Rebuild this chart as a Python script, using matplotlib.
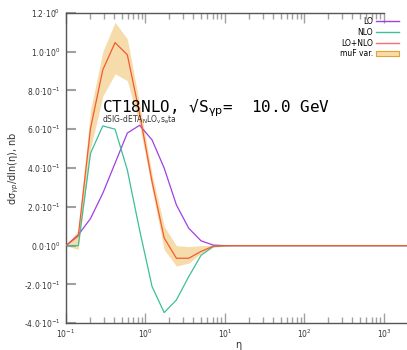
import math
import matplotlib
matplotlib.use("Agg")
import matplotlib.pyplot as plt
from matplotlib.lines import Line2D
from matplotlib.patches import Patch
from matplotlib.ticker import FixedLocator, LogLocator, NullFormatter

# eta bin centres
eta = [0.1, 0.143, 0.204, 0.291, 0.415, 0.592, 0.845, 1.21, 1.72, 2.45,
       3.5, 5.0, 7.1, 10.2, 14.5, 50.0, 200.0, 1000.0, 1950.0]

sig_lo = [0.0, 0.055, 0.14, 0.27, 0.425, 0.58, 0.62, 0.545, 0.40, 0.21,
          0.09, 0.025, 0.003, 0.0, 0.0, 0.0, 0.0, 0.0, 0.0]
sig_nlo = [0.0, 0.0, 0.476, 0.617, 0.60, 0.39, 0.08, -0.21, -0.345, -0.28,
           -0.16, -0.05, -0.005, 0.0, 0.0, 0.0, 0.0, 0.0, 0.0]
sig_tot = [0.0, 0.05, 0.605, 0.906, 1.046, 0.983, 0.68, 0.33, 0.04, -0.065,
           -0.065, -0.03, -0.003, 0.0, 0.0, 0.0, 0.0, 0.0, 0.0]

# factorisation-scale band (first 15 bins)
band_hi = [0.0, 0.08, 0.70, 1.00, 1.15, 1.065, 0.73, 0.37, 0.10, 0.0,
           -0.005, 0.0, 0.002, 0.002, 0.0]
band_lo = [0.0, -0.02, 0.50, 0.77, 0.885, 0.85, 0.62, 0.29, -0.02, -0.105,
           -0.09, -0.04, -0.008, -0.003, 0.0]

yticks = [-0.4, -0.2, 0.0, 0.2, 0.4, 0.6, 0.8, 1.0, 1.2]
xticks = [0.1, 1.0, 10.0, 100.0, 1000.0]
xtick_labels = ["10$^{-1}$", "10$^{0}$", "10$^{1}$", "10$^{2}$", "10$^{3}$"]


def sci_label(v):
    if v == 0:
        return "0.0·10$^{0}$"
    e = int(math.floor(math.log10(abs(v)) + 1e-9))
    m = v / 10 ** e
    return f"{m:.1f}·10$^{{{e}}}$"


c_lo = "#a040e0"
c_nlo = "#3dbf9a"
c_tot = "#f45a32"
c_band = "#f6dcaa"

fig = plt.figure(figsize=(4.07, 3.5), dpi=100)
ax = fig.add_axes([0.162, 0.0763, 0.838, 0.8874])

n = len(band_hi)
ax.fill_between(eta[:n], band_lo, band_hi, color=c_band, lw=0, zorder=1)
ax.plot(eta, sig_lo, color=c_lo, lw=0.9, zorder=2)
ax.plot(eta, sig_nlo, color=c_nlo, lw=0.9, zorder=3)
ax.plot(eta, sig_tot, color=c_tot, lw=0.9, zorder=4)

ax.set_xscale("log")
ax.set_xlim(0.1, 1950)
ax.set_ylim(-0.4, 1.2)

spine_c = "#555555"
for s in ["left", "bottom", "top"]:
    ax.spines[s].set_color(spine_c)
    ax.spines[s].set_linewidth(1.0)
ax.spines["right"].set_visible(False)
ax.spines["top"].set_bounds(0.1, 1000)

ax.xaxis.set_major_locator(FixedLocator(xticks))
ax.set_xticklabels(xtick_labels)
ax.xaxis.set_minor_locator(LogLocator(base=10, subs=range(2, 10), numticks=20))
ax.xaxis.set_minor_formatter(NullFormatter())
ax.set_yticks(yticks)
ax.set_yticklabels([sci_label(v) for v in yticks])

tick_c = "#a0a0a0"
ax.tick_params(axis="x", which="major", direction="in", length=7, width=1,
               color=tick_c, top=True, labelsize=5.5, labelcolor="#333333", pad=3)
ax.tick_params(axis="x", which="minor", direction="in", length=4, width=1,
               color=tick_c, top=True)
ax.tick_params(axis="y", which="major", direction="in", length=7, width=1.5,
               color=tick_c, right=False, labelsize=5.5, labelcolor="#333333", pad=4)

ax.set_xlabel("η", fontsize=7, color="#333333", va="center")
ax.xaxis.set_label_coords(0.504, -0.07)
ax.set_ylabel("dσ$_{\\gamma p}$/dln(η), nb", fontsize=7, color="#333333",
              va="center")
ax.yaxis.set_label_coords(-0.152, 0.5)

fig.text(0.25, 0.679, "CT18NLO, √S$_{\\mathrm{\\gamma p}}$=  10.0 GeV",
         family="DejaVu Sans Mono", fontsize=11.5,
         color="black", va="baseline", ha="left")
fig.text(0.25, 0.651, "dSIG-dETA$_{\\mathrm{N}}$LO$_{\\mathrm{v}}$s$_{\\mathrm{e}}$ta",
         fontsize=5.5, color="#333333", va="baseline", ha="left")

handles = [Line2D([], [], color=c_lo, lw=1),
           Line2D([], [], color=c_nlo, lw=1),
           Line2D([], [], color="#f87070", lw=1),
           Patch(facecolor=c_band, edgecolor="#e8a030", lw=0.8)]
labels = ["LO", "NLO", "LO+NLO", "muF var."]
fig.legend(handles, labels, loc="upper right", bbox_to_anchor=(0.981, 0.951),
           frameon=False, markerfirst=False, fontsize=5.5, handlelength=3.0,
           handleheight=0.8, handletextpad=0.4, labelspacing=0.22,
           borderaxespad=0, borderpad=0)

fig.savefig("out.png", dpi=100)
